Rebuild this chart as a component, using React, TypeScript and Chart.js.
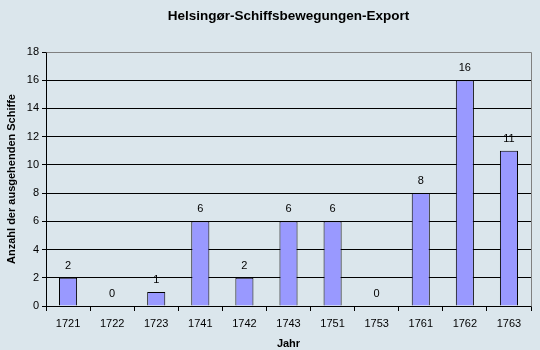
import React, { useEffect, useRef } from "react";
import { Chart, registerables } from "chart.js";

Chart.register(...registerables);

const categories = ["1721", "1722", "1723", "1741", "1742", "1743", "1751", "1753", "1761", "1762", "1763"];
const values = [2, 0, 1, 6, 2, 6, 6, 0, 8, 16, 11];
const titleText = "Helsingør-Schiffsbewegungen-Export";
const yTitle = "Anzahl der ausgehenden Schiffe";
const xTitle = "Jahr";

const FONT = "'Liberation Sans', Arial, sans-serif";
const BG = "#dbe6ec";

export default function App() {
  const ref = useRef<HTMLCanvasElement | null>(null);
  useEffect(() => {
    document.body.style.margin = "0";
    const bgPlugin = {
      id: "bgPlugin",
      beforeDraw(chart: any) {
        const ctx = chart.ctx;
        ctx.save();
        ctx.fillStyle = BG;
        ctx.fillRect(0, 0, chart.width, chart.height);
        ctx.restore();
      },
      afterDraw(chart: any) {
        const ctx = chart.ctx;
        const a = chart.chartArea;
        ctx.save();
        ctx.strokeStyle = "#808080";
        ctx.lineWidth = 1;
        ctx.beginPath();
        ctx.moveTo(Math.round(a.left) + 0.5, Math.round(a.top) + 0.5);
        ctx.lineTo(Math.round(a.right) + 0.5, Math.round(a.top) + 0.5);
        ctx.lineTo(Math.round(a.right) + 0.5, Math.round(a.bottom) + 0.5);
        ctx.stroke();
        ctx.fillStyle = "#000";
        ctx.font = `bold 13.5px ${FONT}`;
        ctx.textAlign = "center";
        ctx.textBaseline = "middle";
        ctx.fillText(titleText, (a.left + a.right) / 2, 16);
        ctx.font = `11px ${FONT}`;
        ctx.textBaseline = "alphabetic";
        const meta = chart.getDatasetMeta(0);
        meta.data.forEach((bar: any, i: number) => {
          ctx.fillText(String(values[i]), bar.x, bar.y - 9);
        });
        ctx.restore();
      },
    };
    const chart = new Chart(ref.current!, {
      type: "bar",
      data: {
        labels: categories,
        datasets: [
          {
            data: values,
            backgroundColor: "#9999ff",
            borderColor: "#000000",
            borderWidth: 1,
            categoryPercentage: 1,
            barPercentage: 0.41,
          },
        ],
      },
      options: {
        responsive: false,
        animation: false,
        layout: { padding: { top: 52, right: 9, left: 0, bottom: 0 } },
        plugins: {
          legend: { display: false },
          title: { display: false },
          tooltip: { enabled: false },
        },
        scales: {
          x: {
            afterFit(scale: any) {
              scale.height = 44;
            },
            border: { color: "#000", width: 1 },
            grid: { drawOnChartArea: false, drawTicks: true, tickLength: 5, color: "#000", offset: true },
            ticks: { color: "#000", font: { family: FONT, size: 11 }, padding: 6, maxRotation: 0 },
            title: {
              display: true,
              text: xTitle,
              color: "#000",
              font: { family: FONT, size: 11, weight: "bold" },
              padding: { top: 0, bottom: -1 },
            },
          },
          y: {
            min: 0,
            max: 18,
            afterFit(scale: any) {
              scale.width = 46;
            },
            border: { color: "#000", width: 1 },
            grid: {
              color: (c: any) => (c.tick && c.tick.value === 18 ? "#808080" : "#000"),
              tickLength: 4,
              tickColor: "#000",
            },
            ticks: { stepSize: 2, color: "#000", font: { family: FONT, size: 11 }, padding: 3 },
            title: {
              display: true,
              text: yTitle,
              color: "#000",
              font: { family: FONT, size: 11, weight: "bold" },
              padding: { top: 5, bottom: 0 },
            },
          },
        },
      },
      plugins: [bgPlugin],
    } as any);
    return () => chart.destroy();
  }, []);
  return (
    <div style={{ width: 540, height: 350 }}>
      <canvas ref={ref} width={540} height={350} />
    </div>
  );
}
